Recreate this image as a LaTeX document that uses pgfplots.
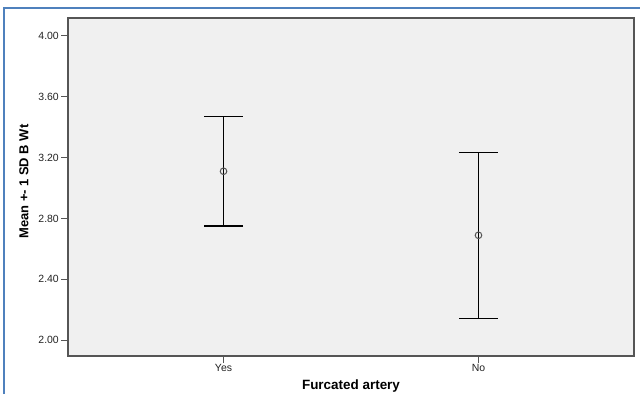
\documentclass[border=0pt]{standalone}
\usepackage{pgfplots}
\pgfplotsset{compat=1.18}
\usepackage{fontspec}
\setmainfont{Liberation Sans}
\definecolor{bg}{HTML}{F0F0F0}
\definecolor{framecol}{HTML}{4F81BD}
\definecolor{axgray}{HTML}{555555}
\definecolor{txt}{HTML}{222222}
\begin{document}
\begin{tikzpicture}[x=1bp,y=1bp]
\useasboundingbox (0,0) rectangle (640,394);
\draw[framecol, line width=2.2bp] (4,0) -- (4,386) -- (640,386);
\begin{axis}[
  at={(68bp,38bp)}, anchor=south west, scale only axis,
  width=566bp, height=338bp,
  xmin=0.39, xmax=2.61, ymin=1.895, ymax=4.118,
  xtick={1,2}, xticklabels={Yes,No},
  ytick={2.0,2.4,2.8,3.2,3.6,4.0},
  yticklabel style={/pgf/number format/fixed, /pgf/number format/fixed zerofill, /pgf/number format/precision=2, inner sep=2bp},
  /pgf/number format/assume math mode=true,
  tick align=outside, major tick length=7bp,
  tick style={axgray, line width=1bp},
  xtick pos=lower, ytick pos=left,
  ticklabel style={font=\fontsize{10.5}{12}\selectfont, text=txt},
  xticklabel style={inner sep=1bp},
  axis background/.style={fill=bg},
  axis line style={axgray, line width=1.3bp},
  xlabel={Furcated artery},
  xlabel style={at={(axis description cs:0.5,0)}, anchor=north, yshift=-24bp, inner sep=0pt, font=\bfseries\fontsize{13.5}{15}\selectfont, text=black},
  ylabel={Mean +- 1 SD B Wt},
  ylabel style={at={(axis description cs:0,0.516)}, anchor=center, yshift=44bp, inner sep=0pt, font=\bfseries\fontsize{13}{15}\selectfont, text=black},
]
\addplot[only marks, mark=o, mark size=3.3bp, mark options={axgray, line width=1bp},
  error bars/.cd, y dir=both, y explicit,
  error bar style={black, line width=1.5bp},
  error mark options={rotate=90, black, line width=1.5bp, mark size=19.5bp}]
  coordinates {(1,3.110) +- (0,0.361) (2,2.689) +- (0,0.546)};
\end{axis}
\end{tikzpicture}
\end{document}
